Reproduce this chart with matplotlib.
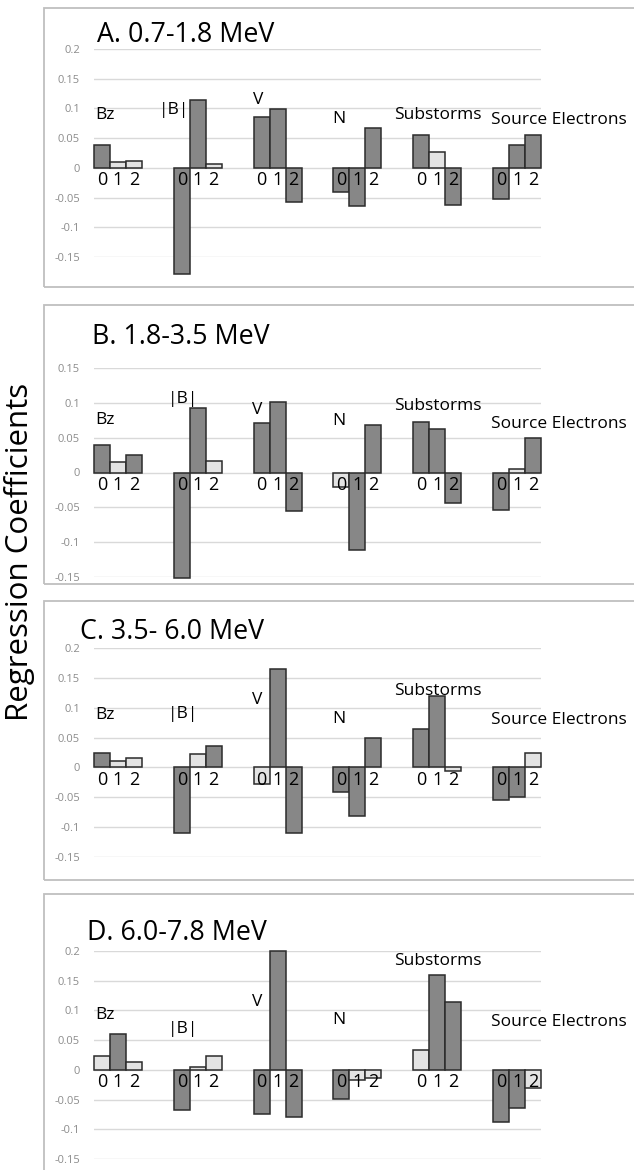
import numpy as np
import matplotlib
matplotlib.use("Agg")
import matplotlib.pyplot as plt
from matplotlib.patches import Rectangle

plt.rcParams['font.family'] = ['Open Sans', 'DejaVu Sans']

# ---------------- data ----------------
groups = ["Bz", "|B|", "V", "N", "Substorms", "Source Electrons"]
lags = ["0", "1", "2"]

titles = ["A. 0.7-1.8 MeV", "B. 1.8-3.5 MeV", "C. 3.5- 6.0 MeV", "D. 6.0-7.8 MeV"]

vals_A = [[0.039, 0.0095, 0.012],
          [-0.178, 0.115, 0.007],
          [0.085, 0.099, -0.058],
          [-0.040, -0.064, 0.067],
          [0.056, 0.0275, -0.063],
          [-0.053, 0.038, 0.056]]
sig_A = [[1, 0, 0], [1, 1, 0], [1, 1, 1], [1, 1, 1], [1, 0, 1], [1, 1, 1]]

vals_B = [[0.040, 0.0144, 0.0255],
          [-0.152, 0.093, 0.0164],
          [0.071, 0.102, -0.055],
          [-0.0206, -0.111, 0.068],
          [0.072, 0.062, -0.044],
          [-0.054, 0.005, 0.050]]
sig_B = [[1, 0, 1], [1, 1, 0], [1, 1, 1], [0, 1, 1], [1, 1, 1], [1, 0, 1]]

vals_C = [[0.0235, 0.011, 0.015],
          [-0.110, 0.0224, 0.0363],
          [-0.0286, 0.165, -0.111],
          [-0.042, -0.082, 0.050],
          [0.064, 0.120, -0.0057],
          [-0.054, -0.049, 0.025]]
sig_C = [[1, 0, 0], [1, 0, 1], [0, 1, 1], [1, 1, 1], [1, 1, 0], [1, 1, 0]]

vals_D = [[0.0225, 0.0597, 0.0135],
          [-0.067, 0.0045, 0.024],
          [-0.074, 0.200, -0.079],
          [-0.049, -0.0164, -0.014],
          [0.0326, 0.160, 0.114],
          [-0.087, -0.064, -0.030]]
sig_D = [[0, 1, 0], [1, 0, 0], [1, 1, 1], [1, 0, 0], [0, 1, 1], [1, 1, 0]]

yticks_A = [-0.15, -0.1, -0.05, 0, 0.05, 0.1, 0.15, 0.2]
yticks_B = [-0.15, -0.1, -0.05, 0, 0.05, 0.1, 0.15]
yticks_C = [-0.15, -0.1, -0.05, 0, 0.05, 0.1, 0.15, 0.2]
yticks_D = [-0.15, -0.1, -0.05, 0, 0.05, 0.1, 0.15, 0.2]

panels = [(vals_A, sig_A, yticks_A), (vals_B, sig_B, yticks_B),
          (vals_C, sig_C, yticks_C), (vals_D, sig_D, yticks_D)]

# ---------------- layout (pixels) ----------------
W, H = 634, 1170
fig = plt.figure(figsize=(W / 100, H / 100), dpi=100)

# (pixel y of top tick, pixel y of bottom tick)
axes_px = [(49, 257), (368.3, 576.7), (648.3, 856.7), (951, 1159)]
boxes_px = [(8, 287), (305, 583.5), (600.5, 879.5), (893.5, 1300)]
title_px = [(97, 33), (92, 334), (80, 630), (87, 930)]
label_x = [95, 168, 252, 332, 394, 491]
label_x_A = [95, 159, 253, 332, 394, 491]
label_y = [[113, 108, 98, 117, 113, 118],
           [418, 397, 408, 419, 404, 421.5],
           [713, 712, 698, 717, 689, 718],
           [1013, 1027, 1000, 1018, 959, 1020]]

DARK = "#878787"
LIGHT = "#e3e3e3"
EDGE = "#2b2b2b"
GRID = "#d9d9d9"
TICKC = "#8c8c8c"
BOXC = "#bfbfbf"

X_LEFT, X_RIGHT = 94, 541
bw = 0.2
xg = np.arange(len(groups))

for p, (vals, sig, yt) in enumerate(panels):
    top_px, bot_px = axes_px[p]
    ax = fig.add_axes([X_LEFT / W, 1 - bot_px / H, (X_RIGHT - X_LEFT) / W, (bot_px - top_px) / H])
    ax.set_xlim(-0.3, len(groups) - 1 + 0.3)
    ax.set_ylim(yt[0], yt[-1])
    v = np.array(vals)
    s = np.array(sig)
    for k in range(3):
        colors = [DARK if s[g, k] else LIGHT for g in range(len(groups))]
        ax.bar(xg + (k - 1) * bw, v[:, k], width=bw, color=colors, edgecolor=EDGE,
               linewidth=1.1, clip_on=False, zorder=2)
        for g in range(len(groups)):
            ax.annotate(lags[k], (xg[g] + (k - 1) * bw, 0), xytext=(0, -12.6),
                        textcoords="offset points", ha="center", va="baseline",
                        fontsize=13, color="black", zorder=5, annotation_clip=False)
    ax.set_yticks(yt)
    ax.set_yticklabels([f"{round(t, 2):g}" for t in yt], color=TICKC, fontsize=8)
    ax.tick_params(axis="y", length=0, pad=10)
    ax.set_xticks([])
    ax.grid(axis="y", color=GRID, linewidth=1)
    ax.set_axisbelow(True)
    for sp in ax.spines.values():
        sp.set_visible(False)
    ax.patch.set_alpha(0)

    # panel box
    bt, bb = boxes_px[p]
    fig.patches.append(Rectangle((44 / W, 1 - bb / H), 1.2, (bb - bt) / H, fill=False,
                                 edgecolor=BOXC, linewidth=1.3, transform=fig.transFigure,
                                 zorder=0))
    # title
    tx, ty = title_px[p]
    fig.text(tx / W, 1 - (ty + 9.5) / H, titles[p], fontsize=19.3, ha="left", va="baseline")
    # group labels
    lx = label_x_A if p == 0 else label_x
    for g, name in enumerate(groups):
        fig.text(lx[g] / W, 1 - (label_y[p][g] + 6) / H, name, fontsize=12.5,
                 ha="left", va="baseline")

fig.text(20 / W, 1 - 552 / H, "Regression Coefficients", rotation=90, fontsize=22.5,
         ha="center", va="center")

fig.savefig("out.png", dpi=100)
